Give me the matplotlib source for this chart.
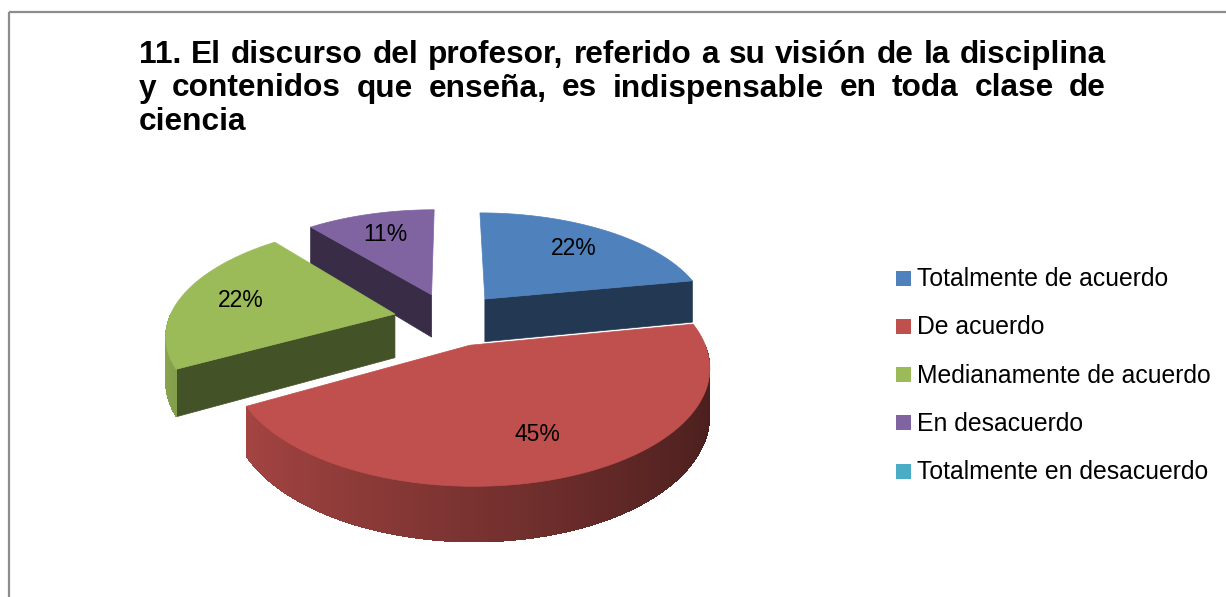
import numpy as np
import matplotlib.pyplot as plt
from matplotlib.patches import Polygon, Rectangle

# datos del grafico
categorias = ["Totalmente de acuerdo", "De acuerdo", "Medianamente de acuerdo",
              "En desacuerdo", "Totalmente en desacuerdo"]
valores = [22, 45, 22, 11, 0]
colores = ["#4F81BD", "#C0504D", "#9BBB59", "#8064A2", "#4BACC6"]
titulo = ["11. El discurso del profesor, referido a su visión de la disciplina",
          "y contenidos que enseña, es indispensable en toda clase de",
          "ciencia"]

# geometria del pastel 3D (pixeles)
CX, CY = 450, 319
RX, RY = 226, 107
PERSP = 0.17
DEPTH = 44
EXPLODE = 0.25
FUENTE = ["Liberation Sans", "DejaVu Sans"]


def proj(u, v, z=0.0):
    f = 1.0 / (1 + PERSP * v)
    return CX + RX * u * f, CY - RY * v * f + DEPTH * z * f


def oscuro(c, k):
    r, g, b = plt.matplotlib.colors.to_rgb(c)
    return (min(r * k, 1), min(g * k, 1), min(b * k, 1))


fig = plt.figure(figsize=(12.26, 5.97), dpi=100)
ax = fig.add_axes([0, 0, 1, 1])
ax.set_xlim(0, 1226)
ax.set_ylim(597, 0)
ax.axis("off")

# marco
ax.add_patch(Rectangle((9, 12), 1400, 800, fill=False, edgecolor="#8c8c8c", lw=1.6))

total = float(sum(valores))
rebanadas = []
ang = 0.0
for i, v in enumerate(valores):
    t0 = ang
    t1 = ang + 360.0 * v / total
    ang = t1
    if v <= 0:
        continue
    m = np.radians((t0 + t1) / 2)
    rebanadas.append((i, t0, t1, EXPLODE * np.sin(m), EXPLODE * np.cos(m), m))

# de atras hacia adelante
rebanadas.sort(key=lambda s: -np.cos(s[5]))


def pts(ou, ov, th, z):
    return [proj(ou + np.sin(t), ov + np.cos(t), z) for t in th]


for i, t0, t1, ou, ov, m in rebanadas:
    col = colores[i]
    # caras de corte
    for t, vis in ((t0, np.sin(np.radians(t0)) < -1e-6), (t1, np.sin(np.radians(t1)) > 1e-6)):
        if not vis:
            continue
        tr = np.radians(t)
        a0 = proj(ou, ov, 0)
        a1 = proj(ou + np.sin(tr), ov + np.cos(tr), 0)
        b1 = proj(ou + np.sin(tr), ov + np.cos(tr), 1)
        b0 = proj(ou, ov, 1)
        ax.add_patch(Polygon([a0, a1, b1, b0], closed=True, fc=oscuro(col, 0.44),
                             ec=oscuro(col, 0.44), lw=0.5))
    # pared exterior (fondo entero y luego franjas con degradado)
    w0, w1 = max(t0, 90), min(t1, 270)
    if w1 > w0:
        th = np.radians(np.linspace(w0, w1, 100))
        kmed = 0.63 - 0.25 * np.sin(th.mean())
        ax.add_patch(Polygon(pts(ou, ov, th, 0) + pts(ou, ov, th[::-1], 1), closed=True,
                             fc=oscuro(col, kmed), ec="none"))
        for a, b in zip(th[:-1], th[1:]):
            k = 0.63 - 0.25 * np.sin((a + b) / 2)
            q = pts(ou, ov, [a, b], 0) + pts(ou, ov, [b, a], 1)
            ax.add_patch(Polygon(q, closed=True, fc=oscuro(col, k), ec="none",
                                 antialiased=False))
    # cara superior
    th = np.radians(np.linspace(t0, t1, 120))
    top = [proj(ou, ov, 0)] + pts(ou, ov, th, 0)
    ax.add_patch(Polygon(top, closed=True, fc=col, ec=col, lw=0.5))

# etiquetas de datos
for i, t0, t1, ou, ov, m in rebanadas:
    x, y = proj(ou + 0.72 * np.sin(m), ov + 0.72 * np.cos(m))
    ax.text(x, y, f"{round(100 * valores[i] / total)}%", ha="center", va="center",
            fontsize=16.5, family=FUENTE, color="black")

# leyenda
for j, (nom, col) in enumerate(zip(categorias, colores)):
    y = 278 + j * 48.3
    ax.add_patch(Rectangle((896, y - 7.5), 15, 15, fc=col, ec="none"))
    ax.text(917, y + 1, nom, ha="left", va="center", fontsize=17.8, family=FUENTE,
            color="black")

# titulo justificado
r = fig.canvas.get_renderer()
fs = 20
prueba = ax.text(0, 0, titulo[0], fontsize=fs, weight="bold", family="Liberation Sans")
w = prueba.get_window_extent(r).width
prueba.remove()
fs = fs * 955.0 / w
X0, X1 = 139, 1106
for n, linea in enumerate(titulo):
    yb = 63 + n * 33.5
    palabras = linea.split(" ")
    objs = [ax.text(0, yb, p, fontsize=fs, weight="bold", family="Liberation Sans",
                    va="baseline", ha="left") for p in palabras]
    anchos = [o.get_window_extent(r).width for o in objs]
    if n < len(titulo) - 1 and len(palabras) > 1:
        esp = (X1 - X0 - sum(anchos)) / (len(palabras) - 1)
    else:
        esp = 0.28 * fs * 100 / 72
    x = X0
    for o, a in zip(objs, anchos):
        o.set_x(x)
        x += a + esp

fig.savefig("out.png", dpi=100)
